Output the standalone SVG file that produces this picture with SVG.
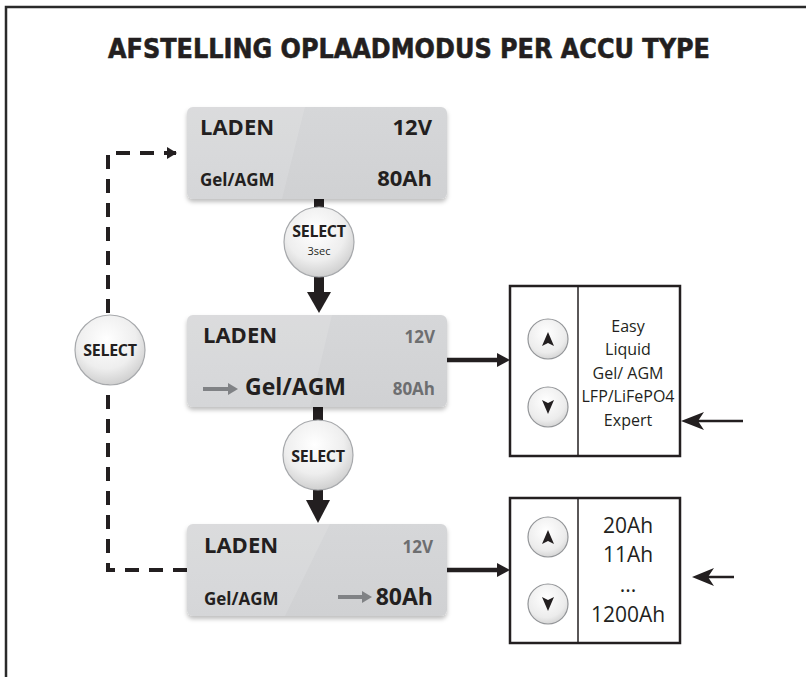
<svg xmlns="http://www.w3.org/2000/svg" width="806" height="677" viewBox="0 0 806 677">
<defs>
<linearGradient id="boxg" x1="0" y1="0" x2="0" y2="1">
<stop offset="0" stop-color="#d6d7d9"/>
<stop offset="1" stop-color="#d0d1d3"/>
</linearGradient>
<radialGradient id="selg" cx="0.45" cy="0.35" r="0.7">
<stop offset="0" stop-color="#ffffff"/>
<stop offset="0.6" stop-color="#eeeeee"/>
<stop offset="1" stop-color="#c9c9c9"/>
</radialGradient>
<radialGradient id="btng" cx="0.45" cy="0.35" r="0.7">
<stop offset="0" stop-color="#ffffff"/>
<stop offset="0.7" stop-color="#ececec"/>
<stop offset="1" stop-color="#cfcfcf"/>
</radialGradient>
<filter id="sh" x="-10%" y="-10%" width="120%" height="130%">
<feDropShadow dx="0" dy="3" stdDeviation="2" flood-color="#000" flood-opacity="0.25"/>
</filter>
<marker id="dashHead" markerWidth="10" markerHeight="12" refX="9" refY="6" orient="auto" markerUnits="userSpaceOnUse">
<path d="M0,0 L10,6 L0,12 Z" fill="#231f20"/>
</marker>
</defs>
<style>
.frame{fill:none;stroke:#2a2a2a;stroke-width:2.5}
.title{font-family:"DejaVu Sans",Verdana,sans-serif;font-weight:700;font-size:27px;fill:#231f20;stroke:#231f20;stroke-width:0.6}
.box{fill:url(#boxg);filter:url(#sh)}
.hl{fill:#ffffff;opacity:0.12}
.t{font-family:"Open Sans","Liberation Sans",sans-serif;fill:#231f20}
.b{font-weight:700}
.big{font-size:22px}
.mid{font-size:17px}
.gray{fill:#6d6e70}
.sel{fill:url(#selg);stroke:#a7a9ac;stroke-width:1.2}
.seltxt{font-family:"Open Sans","Liberation Sans",sans-serif;font-weight:700;font-size:16px;fill:#231f20;text-anchor:middle;letter-spacing:-0.3px}
.btn{fill:url(#btng);stroke:#939598;stroke-width:1.2}
.panel{fill:#ffffff;stroke:#231f20;stroke-width:2.5}
.div{stroke:#231f20;stroke-width:1.5}
.opt{font-family:"Open Sans","Liberation Sans",sans-serif;font-size:16px;fill:#231f20;text-anchor:middle}
.opt2{font-family:"Open Sans","Liberation Sans",sans-serif;font-size:21px;fill:#231f20;text-anchor:middle}
.dash{fill:none;stroke:#231f20;stroke-width:4;stroke-dasharray:14 10}
.blk{fill:#231f20}
.thin{stroke:#231f20;stroke-width:2.5;fill:none}
.mid5{stroke:#231f20;stroke-width:4.5;fill:none}
.garrow{stroke:#808285;stroke-width:4;fill:none}
</style>

<rect width="806" height="677" fill="#ffffff"/>
<path class="frame" d="M6,677 V7 H806"/>

<text class="title" x="409" y="58" text-anchor="middle" textLength="602" lengthAdjust="spacingAndGlyphs">AFSTELLING OPLAADMODUS PER ACCU TYPE</text>

<g id="connectors">
<path class="dash" d="M187,570 H108 V153 H176" marker-end="url(#dashHead)"/>
<rect class="blk" x="314" y="199" width="10" height="14"/>
<rect class="blk" x="314" y="274" width="10" height="20"/>
<path class="blk" d="M307,292 L331,292 L319,313 Z"/>
<rect class="blk" x="313" y="406" width="10" height="15"/>
<rect class="blk" x="313" y="489" width="10" height="13"/>
<path class="blk" d="M306,500 L330,500 L318,523 Z"/>
<line class="mid5" x1="447" y1="360" x2="499" y2="360"/>
<path class="blk" d="M497,353 L510,360 L497,367 Z"/>
<line class="mid5" x1="447" y1="570" x2="499" y2="570"/>
<path class="blk" d="M497,563 L510,570 L497,577 Z"/>
<line class="thin" x1="743" y1="421" x2="695" y2="421"/>
<path class="blk" d="M681,421 L704,412 L698,421 L704,430 Z"/>
<line class="thin" x1="734" y1="577" x2="705" y2="577"/>
<path class="blk" d="M692,577 L714,568 L708,577 L714,586 Z"/>
</g>

<g id="box1">
<rect class="box" x="187" y="107" width="260" height="92" rx="6"/>
<path class="hl" d="M193,107 H305 L282,199 H193 A6,6 0 0 1 187,193 V113 A6,6 0 0 1 193,107 Z"/>
<text class="t b big" x="200" y="135">LADEN</text>
<text class="t b big" x="432" y="135" text-anchor="end">12V</text>
<text class="t b mid" x="200" y="186">Gel/AGM</text>
<text class="t b big" x="432" y="186" text-anchor="end">80Ah</text>
</g>

<g id="select1">
<circle class="sel" cx="319" cy="242" r="35"/>
<text class="seltxt" x="319" y="237">SELECT</text>
<text x="319" y="255" text-anchor="middle" font-family="'Open Sans','Liberation Sans',sans-serif" font-size="11" fill="#231f20">3sec</text>
</g>

<g id="box2">
<rect class="box" x="187" y="315" width="260" height="92" rx="6"/>
<path class="hl" d="M193,315 H332 L310,407 H193 A6,6 0 0 1 187,401 V321 A6,6 0 0 1 193,315 Z"/>
<text class="t b big" x="203" y="343">LADEN</text>
<text class="t b mid gray" x="435" y="343" text-anchor="end">12V</text>
<line class="garrow" x1="203" y1="389" x2="230" y2="389"/>
<path d="M228,383 L238,389 L228,395 Z" fill="#808285"/>
<text class="t b" font-size="23" x="245" y="395">Gel/AGM</text>
<text class="t b mid gray" x="435" y="395" text-anchor="end">80Ah</text>
</g>

<g id="select2">
<circle class="sel" cx="318" cy="455" r="35"/>
<text class="seltxt" x="318" y="462">SELECT</text>
</g>

<g id="box3">
<rect class="box" x="187" y="524" width="260" height="92" rx="6"/>
<path class="hl" d="M193,524 H330 L285,616 H193 A6,6 0 0 1 187,610 V530 A6,6 0 0 1 193,524 Z"/>
<text class="t b big" x="204" y="553">LADEN</text>
<text class="t b mid gray" x="433" y="553" text-anchor="end">12V</text>
<text class="t b mid" x="204" y="605">Gel/AGM</text>
<line class="garrow" x1="338" y1="597" x2="364" y2="597"/>
<path d="M362,591 L372,597 L362,603 Z" fill="#808285"/>
<text class="t b" font-size="23" x="433" y="605" text-anchor="end">80Ah</text>
</g>

<g id="selectLoop">
<circle class="sel" cx="110" cy="350" r="35"/>
<text class="seltxt" x="110" y="356">SELECT</text>
</g>

<g id="panel1">
<rect class="panel" x="510" y="286" width="170" height="170"/>
<line class="div" x1="578" y1="286" x2="578" y2="456"/>
<circle class="btn" cx="548" cy="339" r="20"/>
<path class="blk" d="M548,332 L554,346 L548,343 L542,346 Z"/>
<circle class="btn" cx="548" cy="407" r="20"/>
<path class="blk" d="M548,414 L554,400 L548,403 L542,400 Z"/>
<text class="opt" x="628" y="332">Easy</text>
<text class="opt" x="628" y="355">Liquid</text>
<text class="opt" x="628" y="379">Gel/ AGM</text>
<text class="opt" x="628" y="402">LFP/LiFePO4</text>
<text class="opt" x="628" y="426">Expert</text>
</g>

<g id="panel2">
<rect class="panel" x="510" y="498" width="170" height="145"/>
<line class="div" x1="578" y1="498" x2="578" y2="643"/>
<circle class="btn" cx="548" cy="537" r="20"/>
<path class="blk" d="M548,530 L554,544 L548,541 L542,544 Z"/>
<circle class="btn" cx="548" cy="604" r="20"/>
<path class="blk" d="M548,611 L554,597 L548,600 L542,597 Z"/>
<text class="opt2" x="628" y="533">20Ah</text>
<text class="opt2" x="628" y="562">11Ah</text>
<text class="opt2" x="628" y="592">...</text>
<text class="opt2" x="628" y="622">1200Ah</text>
</g>
</svg>
